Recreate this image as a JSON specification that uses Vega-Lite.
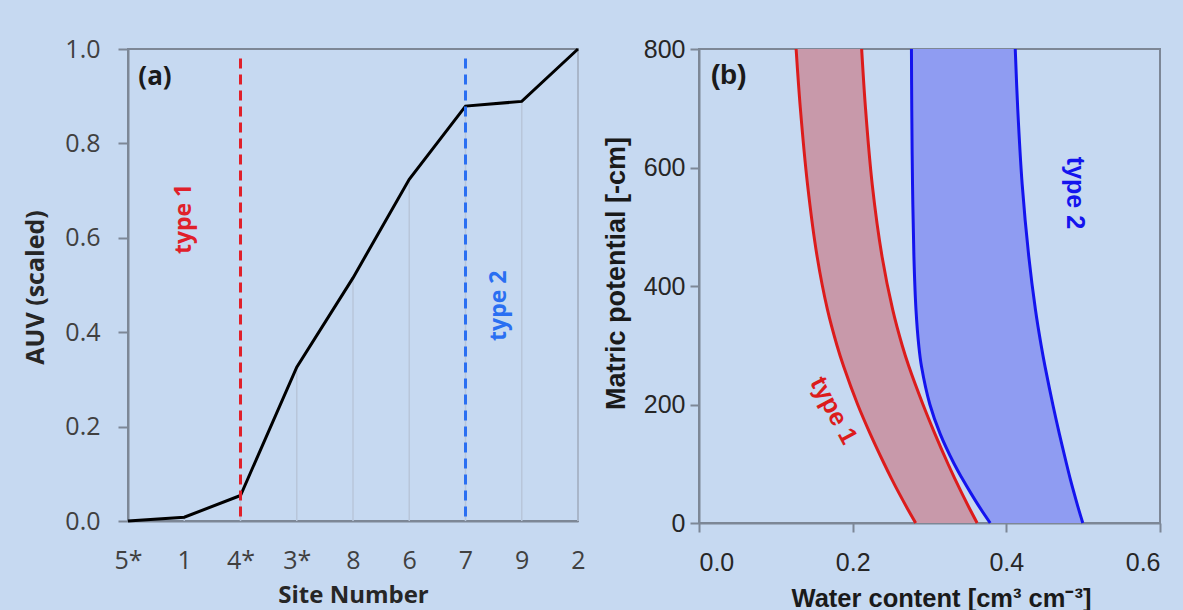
{
  "$schema": "https://vega.github.io/schema/vega-lite/v6.json",
  "background": "#c6d9f1",
  "padding": {"left": 22, "top": 36, "right": 30, "bottom": 0},
  "spacing": 14,
  "resolve": {"scale": {"color": "independent"}},
  "config": {
    "view": {"stroke": "#7d8796", "strokeWidth": 2},
    "axis": {"domainColor": "#7d8796", "domainWidth": 2, "tickColor": "#7d8796", "tickWidth": 2, "grid": false}
  },
  "datasets": {
    "auv": [
      {"site": "5*", "auv": 0.0},
      {"site": "1", "auv": 0.008},
      {"site": "4*", "auv": 0.054},
      {"site": "3*", "auv": 0.326},
      {"site": "8", "auv": 0.515},
      {"site": "6", "auv": 0.724},
      {"site": "7", "auv": 0.879},
      {"site": "9", "auv": 0.889},
      {"site": "2", "auv": 1.0}
    ],
    "swrc": [
      {"h": 0, "t1lo": 0.282, "t1hi": 0.362, "t2lo": 0.379, "t2hi": 0.4995},
      {"h": 25, "t1lo": 0.271, "t1hi": 0.3519, "t2lo": 0.366, "t2hi": 0.4937},
      {"h": 50, "t1lo": 0.2605, "t1hi": 0.3422, "t2lo": 0.354, "t2hi": 0.4883},
      {"h": 75, "t1lo": 0.2505, "t1hi": 0.3329, "t2lo": 0.3426, "t2hi": 0.4831},
      {"h": 100, "t1lo": 0.241, "t1hi": 0.324, "t2lo": 0.332, "t2hi": 0.4783},
      {"h": 150, "t1lo": 0.223, "t1hi": 0.3072, "t2lo": 0.314, "t2hi": 0.4691},
      {"h": 200, "t1lo": 0.2065, "t1hi": 0.2915, "t2lo": 0.3005, "t2hi": 0.4605},
      {"h": 264, "t1lo": 0.1883, "t1hi": 0.2732, "t2lo": 0.2896, "t2hi": 0.4504},
      {"h": 300, "t1lo": 0.1795, "t1hi": 0.2644, "t2lo": 0.286, "t2hi": 0.4453},
      {"h": 360, "t1lo": 0.1672, "t1hi": 0.2521, "t2lo": 0.2824, "t2hi": 0.4379},
      {"h": 450, "t1lo": 0.1537, "t1hi": 0.2382, "t2lo": 0.2797, "t2hi": 0.4292},
      {"h": 572, "t1lo": 0.1412, "t1hi": 0.2254, "t2lo": 0.2779, "t2hi": 0.4206},
      {"h": 700, "t1lo": 0.1319, "t1hi": 0.2167, "t2lo": 0.2769, "t2hi": 0.4148},
      {"h": 800, "t1lo": 0.1264, "t1hi": 0.2117, "t2lo": 0.2765, "t2hi": 0.4116}
    ]
  },
  "hconcat": [
    {
      "width": 450,
      "height": 472,
      "encoding": {
        "x": {
          "field": "site",
          "type": "ordinal",
          "scale": {"type": "point", "padding": 0, "domain": ["5*", "1", "4*", "3*", "8", "6", "7", "9", "2"]},
          "axis": {
            "title": "Site Number", "labelAngle": 0, "ticks": false, "tickSize": 0, "labelPadding": 27,
            "labelFont": "Open Sans", "labelFontSize": 25, "labelColor": "#404040",
            "titleFont": "Open Sans", "titleFontSize": 24, "titleFontWeight": "bold", "titleColor": "#262626",
            "titleX": 225, "titleY": 74, "titleBaseline": "middle"
          }
        }
      },
      "layer": [
        {
          "data": {"name": "auv"},
          "mark": {"type": "rule", "color": "#b8c6da", "strokeWidth": 1.5},
          "encoding": {
            "y": {
              "field": "auv", "type": "quantitative", "scale": {"domain": [0, 1]},
              "axis": {
                "title": "AUV (scaled)", "values": [0, 0.2, 0.4, 0.6, 0.8, 1.0], "format": ".1f",
                "tickSize": 10, "labelPadding": 18,
                "labelFont": "Open Sans", "labelFontSize": 25, "labelColor": "#404040",
                "titleFont": "Open Sans", "titleFontSize": 25, "titleFontWeight": "bold", "titleColor": "#262626",
                "titleX": -93, "titleY": 238, "titleBaseline": "middle"
              }
            },
            "y2": {"datum": 0}
          }
        },
        {
          "data": {"name": "auv"},
          "mark": {"type": "line", "color": "#000000", "strokeWidth": 3},
          "encoding": {"y": {"field": "auv", "type": "quantitative"}}
        },
        {
          "data": {"values": [
            {"site": "4*", "top": 0.98, "kind": "type 1"},
            {"site": "7", "top": 0.98, "kind": "type 2"}
          ]},
          "mark": {"type": "rule", "strokeWidth": 3, "strokeDash": [10, 6]},
          "encoding": {
            "y": {"field": "top", "type": "quantitative"},
            "y2": {"datum": 0},
            "color": {"field": "kind", "type": "nominal", "scale": {"domain": ["type 1", "type 2"], "range": ["#e0202a", "#2a6ff2"]}, "legend": null}
          }
        },
        {
          "data": {"values": [{"site": "1", "pos": 0.64, "label": "type 1"}]},
          "mark": {"type": "text", "angle": 270, "font": "Open Sans", "fontSize": 23, "fontWeight": "bold", "color": "#e0202a", "baseline": "middle", "align": "center"},
          "encoding": {"y": {"field": "pos", "type": "quantitative"}, "text": {"field": "label"}}
        },
        {
          "data": {"values": [{"site": "7", "pos": 0.456, "label": "type 2"}]},
          "mark": {"type": "text", "angle": 270, "dy": 33, "font": "Open Sans", "fontSize": 23, "fontWeight": "bold", "color": "#2a6ff2", "baseline": "middle", "align": "center"},
          "encoding": {"y": {"field": "pos", "type": "quantitative"}, "text": {"field": "label"}}
        },
        {
          "data": {"values": [{"site": "5*", "pos": 0.94, "label": "(a)"}]},
          "mark": {"type": "text", "dx": 27, "font": "Open Sans", "fontSize": 26, "fontWeight": "bold", "color": "#1a1a1a", "baseline": "middle", "align": "center"},
          "encoding": {"y": {"field": "pos", "type": "quantitative"}, "text": {"field": "label"}}
        }
      ]
    },
    {
      "width": 461,
      "height": 474,
      "layer": [
        {
          "data": {"name": "swrc"},
          "mark": {"type": "area", "orient": "horizontal", "interpolate": "catmull-rom", "color": "#c899aa", "opacity": 1},
          "encoding": {
            "y": {
              "field": "h", "type": "quantitative", "scale": {"domain": [0, 800]},
              "axis": {
                "title": "Matric potential [-cm]", "values": [0, 200, 400, 600, 800],
                "tickSize": 9, "labelPadding": 5,
                "labelFont": "Liberation Sans", "labelFontSize": 25, "labelColor": "#262626",
                "titleFont": "Liberation Sans", "titleFontSize": 27, "titleFontWeight": "bold", "titleColor": "#1a1a1a",
                "titleX": -83, "titleY": 224, "titleBaseline": "middle"
              }
            },
            "x": {
              "field": "t1lo", "type": "quantitative", "scale": {"domain": [0, 0.6]},
              "axis": {
                "title": "Water content [cm³ cm⁻³]", "values": [0, 0.2, 0.4, 0.6], "format": ".1f",
                "tickSize": 9, "labelPadding": 18,
                "labelFont": "Liberation Sans", "labelFontSize": 25, "labelColor": "#262626",
                "titleFont": "Liberation Sans", "titleFontSize": 25.5, "titleFontWeight": "bold", "titleColor": "#1a1a1a",
                "titleX": 242, "titleY": 75, "titleBaseline": "middle"
              }
            },
            "x2": {"field": "t1hi"}
          }
        },
        {
          "data": {"name": "swrc"},
          "mark": {"type": "area", "orient": "horizontal", "interpolate": "catmull-rom", "color": "#8f9cf2", "opacity": 1},
          "encoding": {
            "y": {"field": "h", "type": "quantitative"},
            "x": {"field": "t2lo", "type": "quantitative"},
            "x2": {"field": "t2hi"}
          }
        },
        {
          "data": {"name": "swrc"},
          "transform": [{"fold": ["t1lo", "t1hi", "t2lo", "t2hi"], "as": ["curve", "theta"]}],
          "mark": {"type": "line", "strokeWidth": 3, "interpolate": "catmull-rom"},
          "encoding": {
            "y": {"field": "h", "type": "quantitative"},
            "x": {"field": "theta", "type": "quantitative"},
            "order": {"field": "h", "type": "quantitative"},
            "color": {"field": "curve", "type": "nominal", "scale": {"domain": ["t1lo", "t1hi", "t2lo", "t2hi"], "range": ["#dc1c1c", "#dc1c1c", "#1414ee", "#1414ee"]}, "legend": null}
          }
        },
        {
          "data": {"values": [{"theta": 0.1754, "h": 190, "label": "type 1"}]},
          "mark": {"type": "text", "angle": 62, "font": "Liberation Sans", "fontSize": 25, "fontWeight": "bold", "color": "#dc1c1c", "baseline": "middle", "align": "center"},
          "encoding": {"x": {"field": "theta", "type": "quantitative"}, "y": {"field": "h", "type": "quantitative"}, "text": {"field": "label"}}
        },
        {
          "data": {"values": [{"theta": 0.489, "h": 557, "label": "type 2"}]},
          "mark": {"type": "text", "angle": 90, "font": "Liberation Sans", "fontSize": 25, "fontWeight": "bold", "color": "#1414ee", "baseline": "middle", "align": "center"},
          "encoding": {"x": {"field": "theta", "type": "quantitative"}, "y": {"field": "h", "type": "quantitative"}, "text": {"field": "label"}}
        },
        {
          "data": {"values": [{"theta": 0.0385, "h": 754, "label": "(b)"}]},
          "mark": {"type": "text", "font": "Liberation Sans", "fontSize": 28, "fontWeight": "bold", "color": "#1a1a1a", "baseline": "middle", "align": "center"},
          "encoding": {"x": {"field": "theta", "type": "quantitative"}, "y": {"field": "h", "type": "quantitative"}, "text": {"field": "label"}}
        }
      ]
    }
  ]
}
